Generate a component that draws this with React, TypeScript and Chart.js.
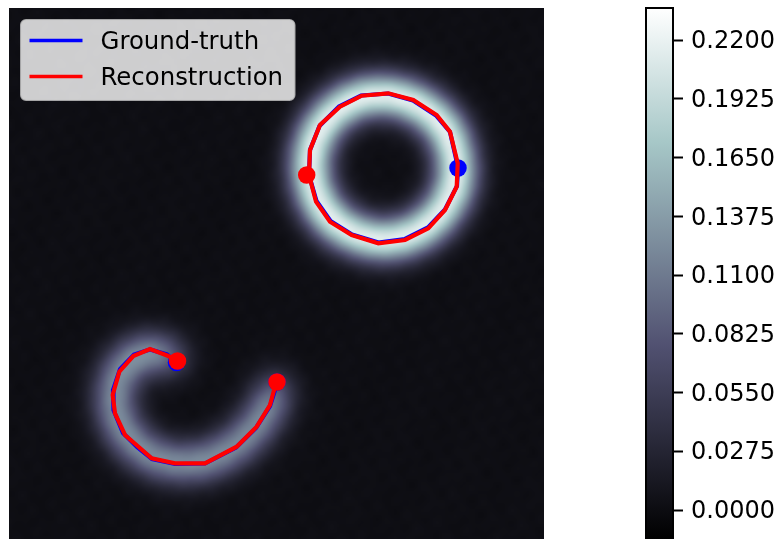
import React, { useEffect, useRef } from "react";
import { Chart, registerables } from "chart.js";

Chart.register(...registerables);

const FONT = "'DejaVu Sans'";
const X_RANGE = 535;
const Y_RANGE = 531;

const labelGroundTruth = "Ground-truth";
const labelReconstruction = "Reconstruction";

const gtCircleX = [449, 448, 436, 419, 396, 369.5, 343, 321.5, 307.5, 300, 301, 310.5, 330, 352, 379, 404, 427, 441, 448, 449];
const gtCircleY = [160, 178, 201.5, 219.5, 231, 234.5, 226.5, 213, 193, 167, 142, 118, 98.5, 87.5, 85.5, 92.5, 107.5, 124, 155, 160];
const recCircleX = [300, 307, 321, 342.7, 369.3, 396, 419.3, 436, 447.7, 448.7, 441, 427.7, 404.3, 379.3, 352.7, 331, 311, 301, 300];
const recCircleY = [167, 193.7, 213.7, 227, 235.3, 232, 220.3, 202, 178.7, 155.3, 123.7, 107, 92, 85.3, 87.7, 98.7, 117, 142, 167];
const gtSpiralX = [167.5, 158, 141, 125, 111, 104, 104.5, 114, 128, 143, 166, 196, 227, 247, 261, 267, 268];
const gtSpiralY = [354.5, 346.5, 341.5, 346.5, 361, 382, 402, 425, 439, 451, 456, 455.5, 439.5, 420, 398, 379, 374];
const recSpiralX = [168.3, 159.3, 141, 124.3, 110.3, 103.7, 106, 116, 142.7, 166, 196, 227.7, 247.7, 261, 266, 267.7];
const recSpiralY = [353.7, 348, 341, 348, 363.7, 387, 405.3, 427, 450.3, 455.3, 455.3, 438.7, 418.7, 397, 378.7, 374.3];
const gtDotX = [449, 167.5, 268];
const gtDotY = [160, 354.5, 374];
const recDotX = [297.7, 168.5, 268];
const recDotY = [167, 353, 374];

const circleAmplitude = 0.208;
const spiralAmplitude = 0.118;
const glowSigma = 16;
const backgroundLevel = 0.002;

const colorbarTicks = [0, 0.0275, 0.055, 0.0825, 0.11, 0.1375, 0.165, 0.1925, 0.22];
const colorbarMin = -0.01357;
const colorbarMax = 0.235;

const boneStops: [number, number, number, number][] = [
  [0, 0, 0, 0],
  [0.365, 0.319, 0.319, 0.444],
  [0.746, 0.652, 0.782, 0.782],
  [1, 1, 1, 1],
];

function bone(t: number): [number, number, number] {
  const v = Math.min(1, Math.max(0, t));
  for (let i = 1; i < boneStops.length; i++) {
    const a = boneStops[i - 1];
    const b = boneStops[i];
    if (v <= b[0]) {
      const f = (v - a[0]) / (b[0] - a[0]);
      return [0, 1, 2].map((k) => Math.round(255 * (a[k + 1] + f * (b[k + 1] - a[k + 1])))) as [number, number, number];
    }
  }
  return [255, 255, 255];
}

const zip = (xs: number[], ys: number[]) => xs.map((x, i) => ({ x, y: ys[i] }));

// Points along a curve, each with the share of its length, so a blur of the curve can be summed from them.
function sampleCurve(xs: number[], ys: number[]) {
  const out: { x: number; y: number; w: number }[] = [];
  for (let i = 1; i < xs.length; i++) {
    const dx = xs[i] - xs[i - 1];
    const dy = ys[i] - ys[i - 1];
    const len = Math.hypot(dx, dy);
    const n = Math.max(1, Math.ceil(len / 3));
    for (let k = 0; k < n; k++) {
      const f = (k + 0.5) / n;
      out.push({ x: xs[i - 1] + f * dx, y: ys[i - 1] + f * dy, w: len / n });
    }
  }
  return out;
}

function buildHeat(): HTMLCanvasElement {
  const w = 178;
  const h = 177;
  const c = document.createElement("canvas");
  c.width = w;
  c.height = h;
  const ctx = c.getContext("2d")!;
  const img = ctx.createImageData(w, h);
  const s2 = 2 * glowSigma * glowSigma;
  const norm = 1 / (glowSigma * Math.sqrt(2 * Math.PI));
  const circle = sampleCurve(gtCircleX, gtCircleY);
  const spiral = sampleCurve(gtSpiralX, gtSpiralY);
  const blur = (pts: typeof circle, x: number, y: number) => {
    let sum = 0;
    for (const p of pts) {
      const dx = p.x - x;
      const dy = p.y - y;
      sum += p.w * Math.exp(-(dx * dx + dy * dy) / s2);
    }
    return sum * norm;
  };
  for (let j = 0; j < h; j++) {
    for (let i = 0; i < w; i++) {
      const x = ((i + 0.5) / w) * X_RANGE;
      const y = ((j + 0.5) / h) * Y_RANGE;
      const texture =
        0.0005 * Math.sin(x * 0.071 + y * 0.043) +
        0.0005 * Math.sin(x * 0.233 - y * 0.097 + 1.3) +
        0.0005 * Math.sin(x * 0.131 + y * 0.317 + 2.1) +
        0.0004 * Math.sin(x * 0.29 - y * 0.263 + 0.6) +
        0.0004 * Math.sin(x * 0.367 + y * 0.191 + 4.2);
      const v =
        backgroundLevel +
        texture +
        circleAmplitude * blur(circle, x, y) +
        spiralAmplitude * blur(spiral, x, y);
      const [r, g, b] = bone((v - colorbarMin) / (colorbarMax - colorbarMin));
      const k = 4 * (j * w + i);
      img.data[k] = r;
      img.data[k + 1] = g;
      img.data[k + 2] = b;
      img.data[k + 3] = 255;
    }
  }
  ctx.putImageData(img, 0, 0);
  return c;
}

const heatPlugin = {
  id: "heat",
  beforeDatasetsDraw(chart: any) {
    const { ctx, chartArea: a } = chart;
    if (!chart.$heat) chart.$heat = buildHeat();
    ctx.save();
    ctx.imageSmoothingEnabled = true;
    ctx.imageSmoothingQuality = "high";
    ctx.drawImage(chart.$heat, a.left, a.top, a.right - a.left, a.bottom - a.top);
    ctx.restore();
  },
};

const legendPlugin = {
  id: "boxLegend",
  afterDatasetsDraw(chart: any) {
    const { ctx } = chart;
    const items = [
      { label: labelGroundTruth, color: "#0000ff", y: 40.5 },
      { label: labelReconstruction, color: "#ff0000", y: 76.5 },
    ];
    ctx.save();
    ctx.beginPath();
    ctx.roundRect(21, 20, 273.5, 80, 5);
    ctx.fillStyle = "rgba(255,255,255,0.8)";
    ctx.fill();
    ctx.lineWidth = 2;
    ctx.strokeStyle = "rgba(204,204,204,0.8)";
    ctx.stroke();
    ctx.font = `24.4px ${FONT}`;
    ctx.textAlign = "left";
    ctx.textBaseline = "alphabetic";
    for (const it of items) {
      ctx.beginPath();
      ctx.moveTo(29.5, it.y);
      ctx.lineTo(82.5, it.y);
      ctx.lineWidth = 3.6;
      ctx.strokeStyle = it.color;
      ctx.stroke();
      ctx.fillStyle = "#000";
      ctx.fillText(it.label, 100.5, it.y + 8.5);
    }
    ctx.restore();
  },
};

const barPlugin = {
  id: "colorBar",
  beforeDatasetsDraw(chart: any) {
    const { ctx, chartArea: a, scales } = chart;
    const g = ctx.createLinearGradient(0, scales.y.getPixelForValue(colorbarMin), 0, scales.y.getPixelForValue(colorbarMax));
    boneStops.forEach((s) => g.addColorStop(s[0], `rgb(${s[1] * 255},${s[2] * 255},${s[3] * 255})`));
    ctx.save();
    ctx.fillStyle = g;
    ctx.fillRect(a.left, a.top, a.right - a.left, a.bottom - a.top);
    ctx.strokeStyle = "#000";
    ctx.lineWidth = 2;
    ctx.strokeRect(a.left, a.top, a.right - a.left, a.bottom - a.top + 6);
    ctx.restore();
  },
};

export default function App() {
  const mainRef = useRef<HTMLCanvasElement>(null);
  const barRef = useRef<HTMLCanvasElement>(null);

  useEffect(() => {
    const line = (label: string, xs: number[], ys: number[], color: string, order: number) => ({
      label,
      data: zip(xs, ys),
      borderColor: color,
      backgroundColor: color,
      borderWidth: 4.2,
      pointRadius: 0,
      showLine: true,
      tension: 0,
      order,
    });
    const dots = (label: string, xs: number[], ys: number[], color: string, order: number) => ({
      label,
      data: zip(xs, ys),
      borderColor: color,
      backgroundColor: color,
      pointRadius: 8.75,
      pointBorderWidth: 0,
      showLine: false,
      order,
    });
    const main = new Chart(mainRef.current!, {
      type: "scatter",
      data: {
        datasets: [
          line(labelReconstruction, recCircleX, recCircleY, "#ff0000", 1),
          line(labelReconstruction, recSpiralX, recSpiralY, "#ff0000", 1),
          dots(labelReconstruction, recDotX, recDotY, "#ff0000", 0),
          dots(labelGroundTruth, gtDotX, gtDotY, "#0000ff", 2),
          line(labelGroundTruth, gtCircleX, gtCircleY, "#0000ff", 3),
          line(labelGroundTruth, gtSpiralX, gtSpiralY, "#0000ff", 3),
        ] as any,
      },
      options: {
        animation: false,
        responsive: false,
        maintainAspectRatio: false,
        devicePixelRatio: 1,
        layout: { autoPadding: false, padding: { left: 9, top: 8, right: 36, bottom: 0 } },
        plugins: { legend: { display: false }, tooltip: { enabled: false } },
        scales: {
          x: { type: "linear", min: 0, max: X_RANGE, display: false },
          y: { type: "linear", min: 0, max: Y_RANGE, reverse: true, display: false },
        },
      },
      plugins: [heatPlugin, legendPlugin],
    });
    const bar = new Chart(barRef.current!, {
      type: "scatter",
      data: { datasets: [{ data: [] }] },
      options: {
        animation: false,
        responsive: false,
        maintainAspectRatio: false,
        devicePixelRatio: 1,
        layout: { autoPadding: false, padding: { left: 6, top: 8, right: 0, bottom: 0 } },
        plugins: { legend: { display: false }, tooltip: { enabled: false } },
        scales: {
          x: { display: false, min: 0, max: 1 },
          y: {
            type: "linear",
            position: "right",
            min: colorbarMin,
            max: colorbarMax,
            afterBuildTicks: (s: any) => {
              s.ticks = colorbarTicks.map((value) => ({ value }));
            },
            afterFit: (s: any) => {
              s.width = 107;
              s.paddingTop = 0;
              s.paddingBottom = 0;
            },
            border: { display: false },
            grid: { drawOnChartArea: false, drawTicks: true, tickLength: 10, tickColor: "#000", tickWidth: 2 },
            ticks: {
              color: "#000",
              padding: 8,
              autoSkip: false,
              labelOffset: 2,
              font: { family: FONT, size: 24 },
              callback: (v: any) => Number(v).toFixed(4),
            },
          },
        },
      },
      plugins: [barPlugin],
    });
    return () => {
      main.destroy();
      bar.destroy();
    };
  }, []);

  return (
    <div style={{ position: "fixed", left: 0, top: 0, width: 780, height: 539, background: "#fff", overflow: "hidden" }}>
      <canvas ref={mainRef} width={580} height={539} style={{ position: "absolute", left: 0, top: 0, width: 580, height: 539 }} />
      <canvas ref={barRef} width={140} height={539} style={{ position: "absolute", left: 640, top: 0, width: 140, height: 539 }} />
    </div>
  );
}
